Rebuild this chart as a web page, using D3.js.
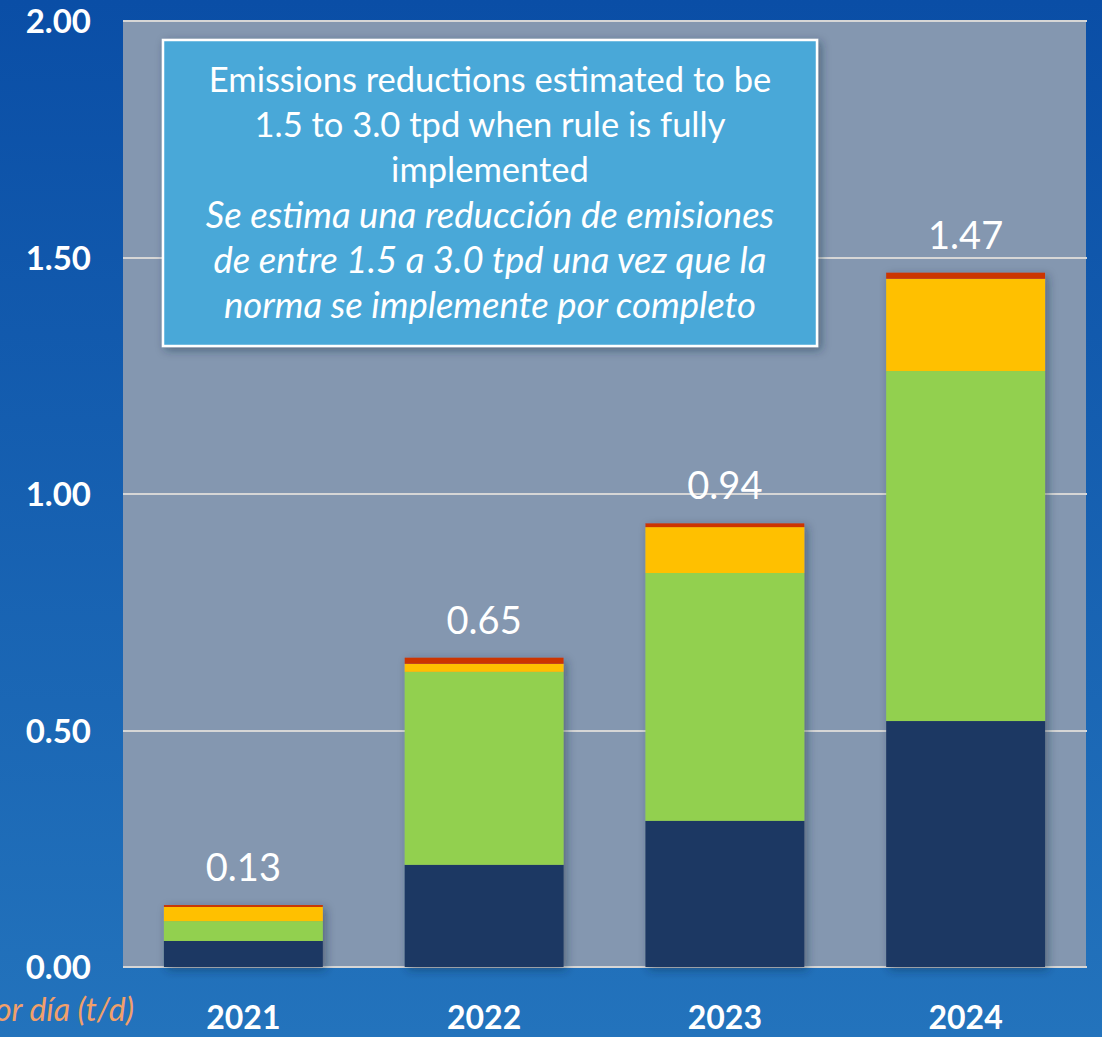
<!DOCTYPE html>
<html lang="en">
<head>
<meta charset="UTF-8">
<title>Emissions reductions</title>
<script src="https://d3js.org/d3.v7.min.js"></script>
<style>
  html, body { margin: 0; padding: 0; }
  body { width: 1102px; height: 1037px; overflow: hidden; }
  svg { display: block; font-family: Lato, "Open Sans", sans-serif; }
</style>
</head>
<body>
<div id="chart"></div>
<script>
// data (tons per day)
const years = ["2021", "2022", "2023", "2024"];
const navy = [0.055, 0.216, 0.309, 0.520];
const green = [0.042, 0.408, 0.524, 0.740];
const yellow = [0.030, 0.017, 0.097, 0.195];
const red = [0.004, 0.013, 0.008, 0.013];
const totals = ["0.13", "0.65", "0.94", "1.47"];
const yTicks = [0, 0.5, 1.0, 1.5, 2.0];
const noteLines = [
  "Emissions reductions estimated to be",
  "1.5 to 3.0 tpd when rule is fully",
  "implemented"
];
const noteLinesEs = [
  "Se estima una reducción de emisiones",
  "de entre 1.5 a 3.0 tpd una vez que la",
  "norma se implemente por completo"
];
const unitLabel = "Toneladas por día (t/d)";

const width = 1102;
const height = 1037;
const plot = { left: 123, right: 1086, top: 21, bottom: 967 };

const keys = ["navy", "green", "yellow", "red"];
const colors = { navy: "#1f3864", green: "#92d050", yellow: "#ffc000", red: "#cc3505" };

const rows = years.map((y, i) => ({
  year: y, navy: navy[i], green: green[i], yellow: yellow[i], red: red[i], total: totals[i]
}));

const svg = d3.select("#chart").append("svg")
  .attr("width", width)
  .attr("height", height);

const defs = svg.append("defs");
const bg = defs.append("linearGradient")
  .attr("id", "bg").attr("x1", 0).attr("y1", 0).attr("x2", 0).attr("y2", 1);
bg.append("stop").attr("offset", "0%").attr("stop-color", "#0a4ea6");
bg.append("stop").attr("offset", "100%").attr("stop-color", "#2373bc");

const shadow = defs.append("filter").attr("id", "shadow")
  .attr("x", "-20%").attr("y", "-20%").attr("width", "140%").attr("height", "140%");
shadow.append("feDropShadow")
  .attr("dx", 3).attr("dy", 3).attr("stdDeviation", 5)
  .attr("flood-color", "#1a2a40").attr("flood-opacity", 0.45);

svg.append("rect")
  .attr("width", width).attr("height", height)
  .attr("fill", "url(#bg)");

// plot area
svg.append("rect")
  .attr("x", plot.left).attr("y", plot.top)
  .attr("width", plot.right - plot.left).attr("height", plot.bottom - plot.top)
  .attr("fill", "#8497b0");

const x = d3.scaleBand()
  .domain(years)
  .range([plot.left, plot.right])
  .paddingInner(0.34)
  .paddingOuter(0.17);

const y = d3.scaleLinear()
  .domain([0, 2])
  .range([plot.bottom, plot.top]);

// gridlines
svg.append("g")
  .selectAll("line")
  .data(yTicks)
  .enter()
  .append("line")
  .attr("x1", plot.left)
  .attr("x2", plot.right + 1)
  .attr("y1", d => Math.round(y(d)))
  .attr("y2", d => Math.round(y(d)))
  .attr("stroke", "#d6d6d6")
  .attr("stroke-width", 2);

// y tick labels
svg.append("g")
  .selectAll("text")
  .data(yTicks)
  .enter()
  .append("text")
  .attr("x", 91)
  .attr("y", d => y(d) + 12)
  .attr("text-anchor", "end")
  .attr("fill", "#ffffff")
  .attr("font-weight", "bold")
  .attr("font-size", 33)
  .text(d => d.toFixed(2));

// stacked bars
const series = d3.stack().keys(keys)(rows);

const barGroups = svg.append("g").attr("filter", "url(#shadow)");
barGroups.selectAll("g")
  .data(series)
  .enter()
  .append("g")
  .attr("fill", d => colors[d.key])
  .selectAll("rect")
  .data(d => d)
  .enter()
  .append("rect")
  .attr("x", d => x(d.data.year))
  .attr("width", x.bandwidth())
  .attr("y", d => y(d[1]))
  .attr("height", d => y(d[0]) - y(d[1]));

// total labels
svg.append("g")
  .selectAll("text")
  .data(series[series.length - 1])
  .enter()
  .append("text")
  .attr("x", d => x(d.data.year) + x.bandwidth() / 2)
  .attr("y", d => y(d[1]) - 24)
  .attr("text-anchor", "middle")
  .attr("fill", "#ffffff")
  .attr("font-size", 38)
  .text(d => d.data.total);

// x labels
svg.append("g")
  .selectAll("text")
  .data(years)
  .enter()
  .append("text")
  .attr("x", d => x(d) + x.bandwidth() / 2)
  .attr("y", 1029)
  .attr("text-anchor", "middle")
  .attr("fill", "#ffffff")
  .attr("font-weight", "bold")
  .attr("font-size", 32)
  .text(d => d);

// unit label, cut off at the left edge like the original slide
svg.append("text")
  .attr("x", 134)
  .attr("y", 1021)
  .attr("text-anchor", "end")
  .attr("fill", "#f2a06a")
  .attr("font-style", "italic")
  .attr("font-size", 32)
  .text(unitLabel);

// note box
const note = svg.append("g");
note.append("rect")
  .attr("x", 163).attr("y", 40)
  .attr("width", 654).attr("height", 306)
  .attr("fill", "#48a8d8")
  .attr("stroke", "#ffffff")
  .attr("stroke-width", 2.5)
  .attr("filter", "url(#shadow)");

note.selectAll("text.en")
  .data(noteLines)
  .enter()
  .append("text")
  .attr("class", "en")
  .attr("x", 490)
  .attr("y", (d, i) => 92 + i * 45)
  .attr("text-anchor", "middle")
  .attr("fill", "#ffffff")
  .attr("font-size", 34.5)
  .text(d => d);

note.selectAll("text.es")
  .data(noteLinesEs)
  .enter()
  .append("text")
  .attr("class", "es")
  .attr("x", 490)
  .attr("y", (d, i) => 228 + i * 45)
  .attr("text-anchor", "middle")
  .attr("fill", "#ffffff")
  .attr("font-style", "italic")
  .attr("font-size", 36.5)
  .text(d => d);
</script>
</body>
</html>
